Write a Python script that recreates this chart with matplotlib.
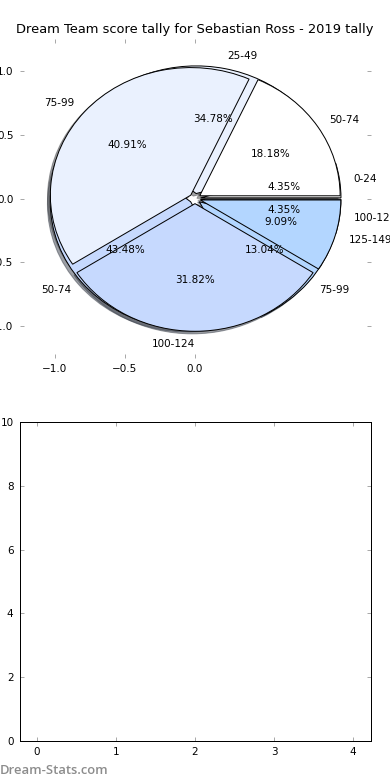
import matplotlib
matplotlib.use('Agg')
import matplotlib.pyplot as plt

title = "Dream Team score tally for Sebastian Ross - 2019 tally"
labels_a = ['0-24', '25-49', '50-74', '75-99', '100-124']
values_a = [1, 8, 10, 3, 1]
labels_b = ['50-74', '75-99', '100-124', '125-149']
values_b = [4, 9, 7, 2]
colors = ['#ffffff', '#eaf1fe', '#c6d9fe', '#b3d6ff', '#a0c4ff']
explode_a = [0.04, 0.04, 0.04, 0.04, 0.04]
explode_b = [0.04, 0.04, 0.04, 0.04]
pie_xticks = [-1.0, -0.5, 0.0]
pie_yticks = [-1.0, -0.5, 0.0, 0.5, 1.0]
bar_xticks = [0, 1, 2, 3, 4]
bar_yticks = [0, 2, 4, 6, 8, 10]

plt.rcParams['font.family'] = ['DejaVu Sans']
fig = plt.figure(figsize=(390 / 72, 780 / 72), dpi=72)
fig.subplots_adjust(left=0.05, right=0.95, bottom=0.05, top=0.95, hspace=0.2)
ax1 = fig.add_subplot(2, 1, 1)
ax2 = fig.add_subplot(2, 1, 2)

wp = dict(edgecolor='black', linewidth=1.0)
tp = dict(fontsize=10.4)
all_texts = []
for vals, labs, expl in ((values_a, labels_a, explode_a), (values_b, labels_b, explode_b)):
    _, texts, _ = ax1.pie(vals, labels=labs, colors=colors, explode=expl,
                          autopct='%1.2f%%', shadow=True, startangle=0,
                          wedgeprops=wp, textprops=tp)
    all_texts.extend(texts)
for t in all_texts:
    x, _ = t.get_position()
    if abs(x) < 1e-6:
        t.set_horizontalalignment('right')

ax1.set_aspect('auto')
ax1.set_xlim(-1.25, 1.25)
ax1.set_ylim(-1.25, 1.25)
ax1.set_frame_on(False)
ax1.set_xticks(pie_xticks)
ax1.set_yticks(pie_yticks)
ax1.set_title(title, fontsize=13)

ax2.set_xlim(-0.22, 4.22)
ax2.set_ylim(0, 10)
ax2.set_xticks(bar_xticks)
ax2.set_yticks(bar_yticks)
for sp in ax2.spines.values():
    sp.set_linewidth(1.0)

for ax in (ax1, ax2):
    ax.tick_params(direction='in', length=4, width=0.5, top=True, right=True,
                   labelsize=10.4, pad=6, color='#555555')

fig.text(0.0, 0.004, 'Dream-Stats.com', color='#8c8c8c', fontsize=13,
         family=['Open Sans', 'DejaVu Sans'], weight='semibold',
         ha='left', va='bottom')

fig.savefig('out.png', dpi=72)
